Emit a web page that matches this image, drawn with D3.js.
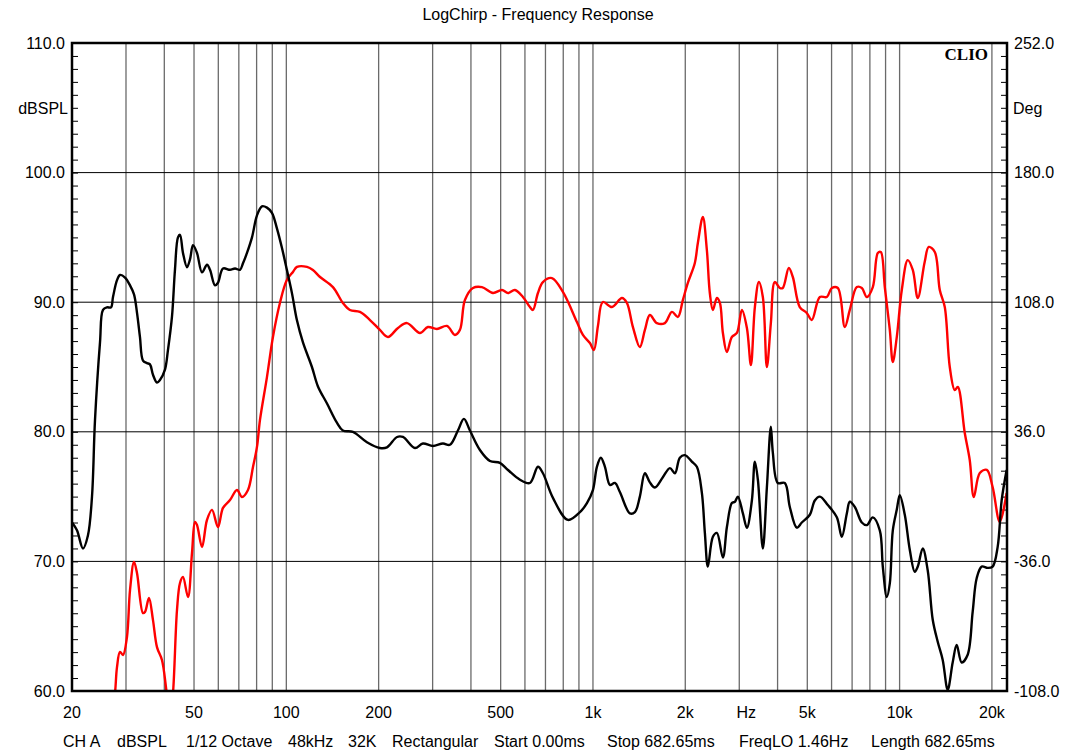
<!DOCTYPE html>
<html>
<head>
<meta charset="utf-8">
<script src="https://cdn.jsdelivr.net/npm/d3@7"></script>
<style>
  body { margin: 0; background: #fff; }
  text { font-family: "Liberation Sans", Arial, sans-serif; fill: #000; }
</style>
</head>
<body>
<div id="chart"></div>
<script>
// SPL curve (black, left axis)
const splFreq = [20, 20.76, 21.72, 22.54, 23.24, 23.77, 24.68, 25.24, 26.0, 26.8, 27.21, 28.04, 28.68, 29.78, 30.92, 31.86, 32.58, 33.32, 34.08, 35.12, 35.92, 36.74, 37.86, 38.72, 40.2, 41.11, 42.38, 43.33, 44.32, 45.0, 46.02, 47.43, 48.51, 49.62, 51.13, 53.09, 55.11, 56.37, 58.53, 59.86, 62.15, 65.51, 68.02, 70.61, 72.22, 74.42, 77.27, 80.22, 83.28, 86.46, 89.76, 93.18, 96.74, 100.4, 104.3, 108.3, 113.3, 121.2, 126.8, 135.6, 146.2, 152.9, 164.9, 183.2, 201.9, 212.9, 229.6, 240.1, 262.7, 278.9, 300.6, 324.1, 341.6, 362.7, 379.4, 397, 427.9, 461.4, 497.3, 528.2, 577.9, 623, 661.5, 686.8, 740.4, 828.6, 906.7, 955.7, 999.6, 1030, 1061, 1094, 1136, 1179, 1224, 1320, 1370, 1422, 1477, 1533, 1592, 1690, 1782, 1851, 1920, 1994, 2101, 2182, 2265, 2317, 2370, 2461, 2536, 2653, 2734, 2838, 2903, 2969, 3083, 3177, 3298, 3373, 3450, 3581, 3691, 3803, 3860, 4007, 4223, 4385, 4622, 4799, 5096, 5291, 5494, 5834, 6241, 6480, 6728, 6881, 7145, 7530, 7818, 8178, 8618, 8815, 9084, 9291, 9503, 9792, 10015, 10397, 10794, 11206, 11462, 11899, 12353, 12825, 13314, 13822, 14349, 14897, 15352, 15938, 16673, 17309, 17838, 18519, 19370, 20110, 20878, 21517, 22338];
const splDb = [73.0, 72.4, 71.0, 72.0, 75.0, 80.9, 86.9, 89.4, 89.6, 89.6, 90.4, 91.7, 92.1, 91.9, 91.3, 90.6, 89.2, 87.3, 85.5, 85.3, 85.2, 84.4, 83.8, 84.0, 84.8, 86.3, 88.9, 92.5, 95.0, 95.2, 93.8, 92.7, 93.3, 94.4, 93.8, 92.3, 92.9, 92.5, 91.3, 91.5, 92.6, 92.5, 92.6, 92.5, 93.0, 93.8, 95.0, 96.7, 97.4, 97.3, 96.9, 95.7, 94.2, 92.5, 90.7, 88.6, 86.9, 85.0, 83.5, 82.2, 80.7, 80.1, 80.0, 79.2, 78.75, 78.8, 79.6, 79.6, 78.75, 79.1, 78.9, 79.1, 79.0, 80.1, 81.0, 80.1, 78.6, 77.75, 77.6, 77.05, 76.3, 76.05, 77.3, 76.8, 74.9, 73.2, 73.8, 74.5, 75.5, 77.3, 78.0, 77.3, 75.9, 76.05, 75.35, 73.7, 73.8, 75.0, 76.8, 76.1, 75.7, 76.5, 77.2, 76.8, 78.0, 78.2, 77.7, 77.3, 75.3, 72.2, 69.6, 71.9, 72.2, 70.3, 72.65, 74.5, 74.6, 75.0, 73.7, 72.6, 74.7, 77.7, 76.3, 71.0, 75.7, 80.4, 78.4, 76.05, 76.05, 74.2, 72.6, 73.0, 73.6, 74.7, 75.0, 74.35, 73.4, 71.9, 73.7, 74.6, 74.2, 73.0, 72.8, 73.4, 72.4, 69.6, 67.25, 68.3, 72.4, 74.0, 75.1, 73.6, 70.9, 69.2, 69.6, 71.0, 69.3, 65.5, 63.8, 62.4, 60.1, 62.2, 63.55, 62.2, 62.8, 66.1, 68.7, 69.6, 69.5, 69.6, 71.1, 74.7, 77.05];

// phase curve (red, right axis)
const phaseFreq = [27.21, 27.62, 28.04, 28.68, 29.33, 30.22, 30.92, 31.86, 32.58, 34.08, 34.6, 35.65, 36.74, 37.86, 39.3, 40.5, 41.74, 42.7, 44.0, 45.0, 46.02, 47.79, 49.25, 50.36, 51.13, 53.09, 55.11, 57.22, 59.86, 62.15, 65.51, 69.03, 71.68, 74.98, 77.85, 80.22, 82.05, 86.46, 90.44, 95.31, 100.4, 105.1, 108.3, 116.8, 122.1, 128.8, 141.9, 152.9, 161.2, 173.8, 187.4, 201.9, 214.5, 231.3, 247.4, 272.8, 289.5, 309.8, 334, 354.6, 368.2, 382.3, 406.1, 434.4, 471.9, 504.8, 528.2, 556.6, 591, 623, 637.1, 661.5, 686.8, 734.8, 797.9, 886.5, 927.3, 977.4, 1007, 1038, 1077, 1153, 1243, 1290, 1350, 1422, 1477, 1533, 1616, 1716, 1809, 1892, 1964, 2039, 2149, 2198, 2282, 2352, 2405, 2461, 2536, 2594, 2653, 2734, 2838, 2947, 3060, 3177, 3274, 3373, 3476, 3581, 3691, 3803, 3918, 4067, 4160, 4352, 4485, 4725, 4980, 5171, 5494, 5790, 6012, 6289, 6627, 6881, 7253, 7530, 7818, 8178, 8490, 8683, 8948, 9291, 9503, 9792, 10166, 10631, 11039, 11462, 12072, 12450, 13024, 13522, 14038, 14575, 15131, 15476, 16313, 16934, 17458, 18263, 19249, 20110, 21213, 22338];
const phaseDeg = [-115.8, -109.1, -94.7, -86.3, -88.0, -78.0, -51.9, -36.3, -42.4, -64.7, -64.1, -56.3, -68.6, -83.6, -90.8, -105.8, -124.0, -109.1, -63.0, -48.0, -44.7, -55.8, -31.3, -14.1, -15.8, -28.0, -13.0, -7.4, -16.9, -6.3, -1.9, 3.7, -0.2, 3.7, 16.4, 27.6, 42.6, 66.4, 88.7, 107.6, 120.3, 124.8, 127.6, 127.6, 125.9, 122.0, 116.4, 107.6, 103.7, 102.6, 98.1, 92.6, 88.7, 93.7, 96.4, 90.9, 94.2, 93.1, 94.8, 89.8, 92.6, 109.2, 115.9, 116.4, 113.1, 114.8, 113.1, 114.8, 110.9, 105.3, 103.7, 113.1, 119.2, 121.4, 113.7, 97.0, 89.8, 85.3, 81.4, 94.8, 108.1, 105.3, 110.3, 107.6, 94.2, 83.1, 92.6, 100.9, 96.4, 96.4, 102.6, 99.8, 109.2, 118.7, 129.8, 140.9, 155.3, 137.0, 113.1, 103.7, 110.3, 107.6, 90.9, 80.3, 88.7, 90.9, 103.7, 93.7, 73.1, 105.3, 119.2, 110.9, 72.0, 96.4, 119.2, 115.9, 115.9, 127.0, 122.0, 105.3, 102.0, 98.1, 110.9, 110.9, 115.9, 115.9, 94.2, 103.7, 116.4, 115.9, 110.9, 116.4, 135.3, 135.9, 116.4, 92.6, 74.8, 88.7, 114.8, 131.4, 125.9, 110.3, 130.3, 138.7, 135.9, 114.8, 105.3, 72.0, 59.2, 60.9, 35.3, 20.3, -0.2, 13.1, 14.8, 5.3, -14.1, 2.0];

const gridFreqs = [30, 40, 50, 60, 70, 80, 90, 100, 200, 300, 400, 500, 600, 700, 800, 900, 1000, 2000, 3000, 4000, 5000, 6000, 7000, 8000, 9000, 10000, 20000];
const xLabelFreqs = [20, 50, 100, 200, 500, 1000, 2000, 3162, 5000, 10000, 20000];
const xLabelText = ["20", "50", "100", "200", "500", "1k", "2k", "Hz", "5k", "10k", "20k"];
const dbTicks = [60, 70, 80, 90, 100, 110];
const degTicks = [-108, -36, 36, 108, 180, 252];
const infoItems = ["CH A", "dBSPL", "1/12 Octave", "48kHz", "32K", "Rectangular", "Start 0.00ms", "Stop 682.65ms", "FreqLO 1.46Hz", "Length 682.65ms"];
const infoX = [63, 117, 186, 288, 348, 392, 494, 607, 739, 871];

const width = 1077, height = 753;
const plotBox = { left: 72, right: 1007, top: 43, bottom: 691 };

const svg = d3.select("#chart").append("svg")
  .attr("width", width)
  .attr("height", height);

const x = d3.scaleLog().domain([20, 22400]).range([plotBox.left, plotBox.right]);
const yL = d3.scaleLinear().domain([60, 110]).range([plotBox.bottom, plotBox.top]);
const yR = d3.scaleLinear().domain([-108, 252]).range([plotBox.bottom, plotBox.top]);

// plain hyphen minus, one decimal
const fmt = d => d.toFixed(1);

svg.append("defs").append("clipPath").attr("id", "plotClip")
  .append("rect")
  .attr("x", plotBox.left).attr("y", plotBox.top)
  .attr("width", plotBox.right - plotBox.left).attr("height", plotBox.bottom - plotBox.top);

// vertical grid
svg.append("g")
  .selectAll("line")
  .data(gridFreqs)
  .join("line")
  .attr("x1", d => x(d)).attr("x2", d => x(d))
  .attr("y1", plotBox.top).attr("y2", plotBox.bottom)
  .attr("stroke", "#6a6a6a")
  .attr("stroke-width", 1.3);

// horizontal grid
svg.append("g")
  .selectAll("line")
  .data(dbTicks.slice(1, -1))
  .join("line")
  .attr("x1", plotBox.left).attr("x2", plotBox.right)
  .attr("y1", d => yL(d)).attr("y2", d => yL(d))
  .attr("stroke", "#000")
  .attr("stroke-width", 1);

// minor ticks inside the frame
svg.append("g")
  .attr("transform", `translate(${plotBox.left},0)`)
  .call(d3.axisRight(yL).tickValues(d3.range(60, 111, 1)).tickSize(6).tickFormat(""))
  .call(g => g.select(".domain").remove());
svg.append("g")
  .attr("transform", `translate(${plotBox.right},0)`)
  .call(d3.axisLeft(yR).tickValues(d3.range(-108, 253, 7.2)).tickSize(6).tickFormat(""))
  .call(g => g.select(".domain").remove());

// curves
const plot = svg.append("g").attr("clip-path", "url(#plotClip)");

const redLine = d3.line()
  .x(d => x(d[0]))
  .y(d => yR(d[1]))
  .curve(d3.curveCatmullRom.alpha(0.5));
plot.append("path")
  .datum(phaseFreq.map((f, i) => [f, phaseDeg[i]]))
  .attr("fill", "none")
  .attr("stroke", "#ff0000")
  .attr("stroke-width", 2.4)
  .attr("d", redLine);

const blackLine = d3.line()
  .x(d => x(d[0]))
  .y(d => yL(d[1]))
  .curve(d3.curveCatmullRom.alpha(0.5));
plot.append("path")
  .datum(splFreq.map((f, i) => [f, splDb[i]]))
  .attr("fill", "none")
  .attr("stroke", "#000")
  .attr("stroke-width", 2.4)
  .attr("d", blackLine);

// frame
svg.append("rect")
  .attr("x", plotBox.left).attr("y", plotBox.top)
  .attr("width", plotBox.right - plotBox.left).attr("height", plotBox.bottom - plotBox.top)
  .attr("fill", "none")
  .attr("stroke", "#000")
  .attr("stroke-width", 2.5);

// left labels
svg.append("g")
  .attr("transform", `translate(${plotBox.left - 4},0)`)
  .call(d3.axisLeft(yL).tickValues(dbTicks).tickSize(0).tickFormat(fmt))
  .call(g => g.select(".domain").remove())
  .selectAll("text")
  .attr("font-size", 16)
  .attr("font-family", "Liberation Sans, Arial, sans-serif");

// right labels
svg.append("g")
  .attr("transform", `translate(${plotBox.right + 4},0)`)
  .call(d3.axisRight(yR).tickValues(degTicks).tickSize(0).tickFormat(fmt))
  .call(g => g.select(".domain").remove())
  .selectAll("text")
  .attr("font-size", 16)
  .attr("font-family", "Liberation Sans, Arial, sans-serif");

svg.append("text")
  .attr("x", plotBox.left - 4).attr("y", 114)
  .attr("text-anchor", "end")
  .attr("font-size", 16)
  .text("dBSPL");
svg.append("text")
  .attr("x", plotBox.right + 6).attr("y", 114)
  .attr("font-size", 16)
  .text("Deg");

// x labels
svg.append("g")
  .selectAll("text")
  .data(xLabelFreqs)
  .join("text")
  .attr("x", d => x(d))
  .attr("y", 718)
  .attr("text-anchor", "middle")
  .attr("font-size", 16)
  .text((d, i) => xLabelText[i]);

// title
svg.append("text")
  .attr("x", 538).attr("y", 20)
  .attr("text-anchor", "middle")
  .attr("font-size", 16)
  .text("LogChirp - Frequency Response");

// CLIO mark
svg.append("text")
  .attr("x", 988).attr("y", 60)
  .attr("text-anchor", "end")
  .attr("font-size", 17)
  .attr("font-weight", "bold")
  .style("font-family", "Liberation Serif, Times New Roman, serif")
  .text("CLIO");

// info line
svg.append("g")
  .selectAll("text")
  .data(infoItems)
  .join("text")
  .attr("x", (d, i) => infoX[i])
  .attr("y", 747)
  .attr("font-size", 16)
  .text(d => d);
</script>
</body>
</html>
